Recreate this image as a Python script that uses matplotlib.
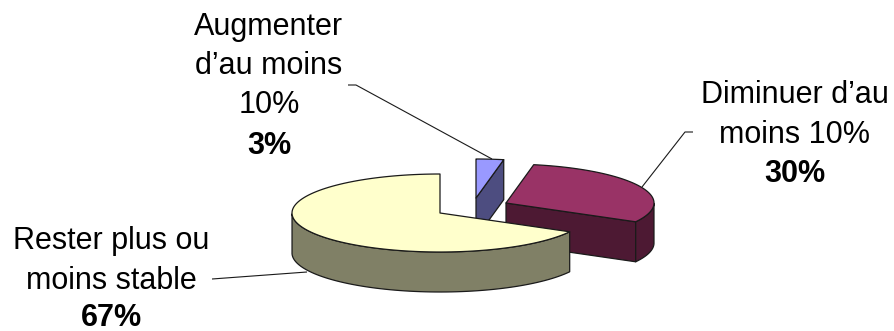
import numpy as np
import matplotlib
matplotlib.use("Agg")
import matplotlib.pyplot as plt
from matplotlib.patches import Polygon

plt.rcParams['font.family'] = ['Liberation Sans', 'DejaVu Sans']

# Data (drawn counter-clockwise from 12 o'clock)
categories = ["Rester plus ou\nmoins stable", "Diminuer d\u2019au\nmoins 10%", "Augmenter\nd\u2019au moins\n10%"]
values = [67, 30, 3]
pct_labels = ["67%", "30%", "3%"]
top_colors = ["#FFFFCC", "#993366", "#9999FF"]
side_colors = ["#808066", "#4D1933", "#4D4D80"]

W, H = 895, 331
RX, RY, DEPTH = 148, 39, 40
centers = [(440, 213), (506, 203), (476, 198)]
label_xy = [(111, 261), (795, 115), (269, 66)]
pct_base = [325.5, 182, 154]
leaders = [[(212, 279), (307, 272)],
           [(693, 132), (685, 132), (642, 187)],
           [(348, 85), (356, 85), (492, 159)]]

fig = plt.figure(figsize=(W / 100, H / 100), dpi=100)
ax = fig.add_axes([0, 0, 1, 1])
ax.set_xlim(0, W)
ax.set_ylim(H, 0)
ax.axis("off")

def pt(c, a, dz=0):
    return c[0] + RX * np.cos(a), c[1] - RY * np.sin(a) + dz

total = sum(values)
start = np.pi / 2
wedges = []
for v, c, top, side in zip(values, centers, top_colors, side_colors):
    sweep = 2 * np.pi * v / total
    wedges.append((start, start + sweep, c, top, side))
    start += sweep

edge = dict(edgecolor="#1a1a1a", linewidth=0.9, joinstyle="round")
# painter's order: blue, red, yellow
for a0, a1, c, top, side in reversed(wedges):
    th = np.linspace(a0, a1, 120)
    xs, ys = pt(c, th)
    # cut faces, only those that face the viewer
    for a, visible in ((a0, np.cos(a0) > 1e-6), (a1, np.cos(a1) < -1e-6)):
        if visible:
            px, py = pt(c, a)
            ax.add_patch(Polygon([c, (px, py), (px, py + DEPTH), (c[0], c[1] + DEPTH)],
                                 facecolor=side, **edge))
    # outer wall (front-facing part only)
    mask = np.sin(th) <= 0
    if mask.any():
        fx, fy = xs[mask], ys[mask]
        ax.add_patch(Polygon(np.r_[np.c_[fx, fy], np.c_[fx[::-1], fy[::-1] + DEPTH]],
                             facecolor=side, **edge))
    ax.add_patch(Polygon(np.r_[[c], np.c_[xs, ys]], facecolor=top, **edge))

for seg in leaders:
    ax.plot(*zip(*seg), color="#1a1a1a", lw=0.8, solid_capstyle="butt")

fs = 22
for name, pct, (x, y), py in zip(categories, pct_labels, label_xy, pct_base):
    ax.text(x, y, name, ha="center", va="center", fontsize=fs, linespacing=1.41, color="black")
    ax.text(x, py, pct, ha="center", va="baseline", fontsize=fs, fontweight="bold", color="black")

fig.savefig("out.png", dpi=100)
